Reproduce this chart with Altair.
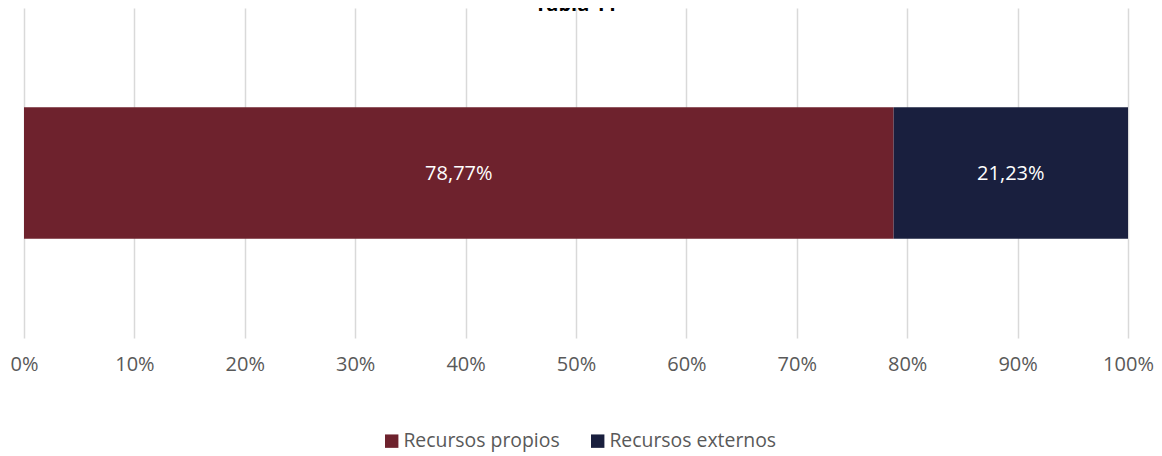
import altair as alt
import pandas as pd

categorias = ["Recursos propios", "Recursos externos"]
valores = [0.7877, 0.2123]
orden = [0, 1]
grupo = ["Total", "Total"]
colores = ["#6E222D", "#191F3E"]
titulo = "Tabla 11"

df = pd.DataFrame({"categoria": categorias, "valor": valores, "orden": orden, "grupo": grupo})

FONT = "Open Sans"

x_scale = alt.Scale(domain=[0, 1], nice=False, zero=True)
y_scale = alt.Scale(paddingInner=0.43, paddingOuter=0.43)

bars = alt.Chart(df).mark_bar().encode(
    x=alt.X("valor:Q", stack="zero", scale=x_scale,
            axis=alt.Axis(values=[i / 10 for i in range(11)], format=".0%", title=None,
                          domain=False, ticks=False, grid=True, gridColor="#D9D9D9",
                          gridWidth=1.5, labelFont=FONT, labelFontSize=20,
                          labelColor="#595959", labelPadding=16, labelFlush=False)),
    y=alt.Y("grupo:N", scale=y_scale, axis=None),
    color=alt.Color("categoria:N",
                    scale=alt.Scale(domain=categorias, range=colores),
                    legend=alt.Legend(title=None, orient="none", direction="horizontal",
                                      legendX=358, legendY=423, symbolType="square",
                                      symbolSize=180, symbolStrokeWidth=0,
                                      labelFont=FONT, labelFontSize=19.4, labelLimit=400,
                                      labelColor="#595959", labelOffset=2,
                                      columnPadding=28)),
    order=alt.Order("orden:Q"),
)

labels = alt.Chart(df).transform_window(
    cum="sum(valor)", sort=[alt.SortField("orden")], frame=[None, 0]
).transform_calculate(
    mid="datum.cum - datum.valor / 2",
    etiqueta="replace(format(datum.valor, '.2%'), '.', ',')",
).mark_text(color="white", font=FONT, fontSize=20, dy=1).encode(
    x=alt.X("mid:Q", scale=x_scale),
    y=alt.Y("grupo:N", scale=y_scale, axis=None),
    text="etiqueta:N",
)

chart = alt.layer(bars, labels).properties(
    width=1104,
    height=330,
    title=alt.TitleParams(titulo, font=FONT, fontSize=20, fontWeight="bold",
                          color="#000000", anchor="middle", offset=-7),
    autosize=alt.AutoSizeParams(type="none"),
    padding={"left": 16, "top": 0, "right": 26, "bottom": 118},
).configure_view(stroke=None)

chart.save("out.html", embed_options={"renderer": "svg", "actions": False})
